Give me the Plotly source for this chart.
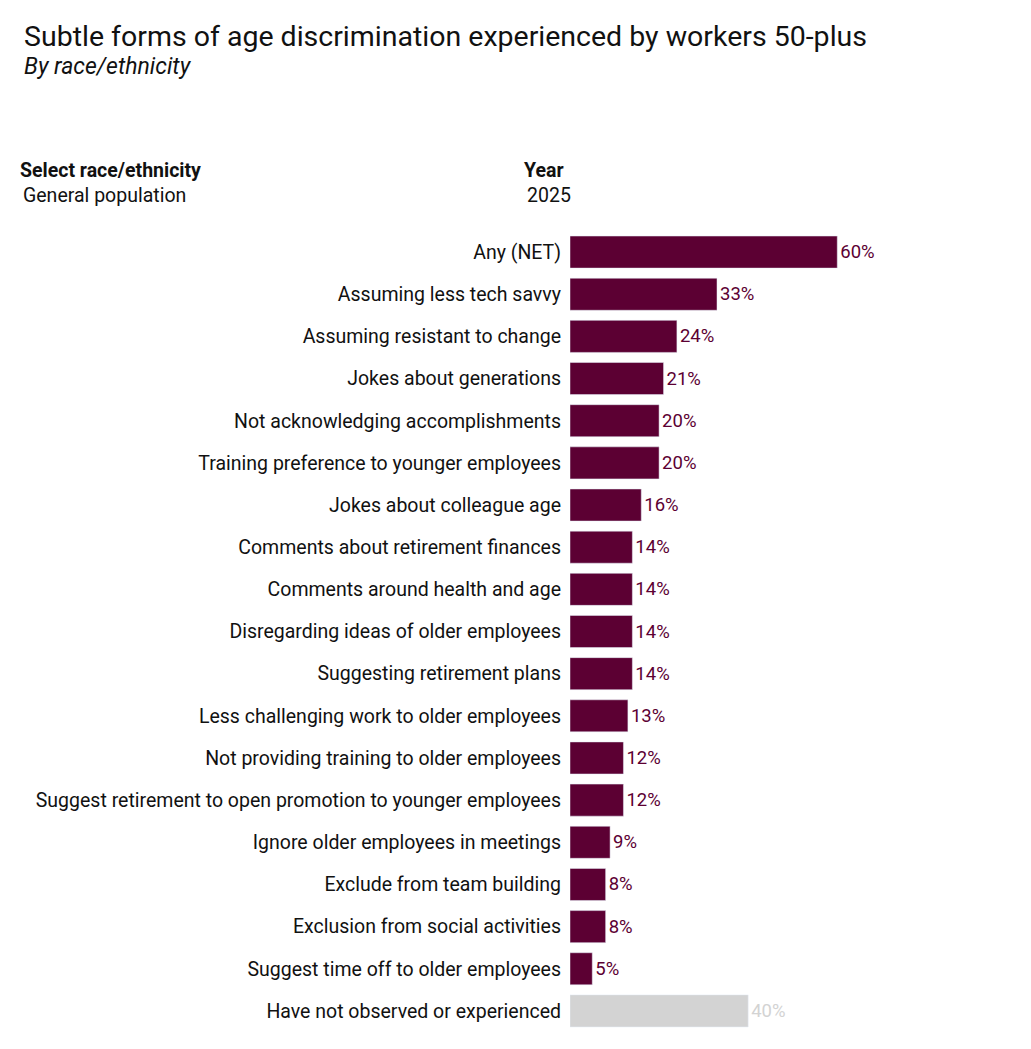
import plotly.graph_objects as go

categories = ["Any (NET)","Assuming less tech savvy","Assuming resistant to change","Jokes about generations",
"Not acknowledging accomplishments","Training preference to younger employees","Jokes about colleague age",
"Comments about retirement finances","Comments around health and age","Disregarding ideas of older employees",
"Suggesting retirement plans","Less challenging work to older employees","Not providing training to older employees",
"Suggest retirement to open promotion to younger employees","Ignore older employees in meetings",
"Exclude from team building","Exclusion from social activities","Suggest time off to older employees",
"Have not observed or experienced"]
values = [60,33,24,21,20,20,16,14,14,14,14,13,12,12,9,8,8,5,40]

MAROON = "#5c0033"; GREY = "#d3d3d3"
colors = [GREY if c.startswith("Have not") else MAROON for c in categories]

W, H = 1031, 1049
OFF = 8  # page offset
L, R, T, B = 570 - OFF, 28, 231 - OFF, 25
pw, ph = W - L - R, H - T - B

fig = go.Figure(go.Bar(
    x=values, y=categories, orientation="h", marker_color=colors,
    text=[f"{v}%" for v in values], textposition="outside",
    textfont=dict(color=colors, size=18.5, family="Roboto"), cliponaxis=False,
    hoverinfo="skip"))

def px(x): return (x - OFF - L) / pw
def py(y): return (H - B - (y - OFF)) / ph

ann = [
    dict(text="Subtle forms of age discrimination experienced by workers 50-plus", x=px(22), y=py(36), size=28.5),
    dict(text="<i>By race/ethnicity</i>", x=px(22), y=py(67), size=23),
    dict(text="<b>Select race/ethnicity</b>", x=px(18), y=py(170), size=19.5),
    dict(text="General population", x=px(21), y=py(196), size=19.5),
    dict(text="<b>Year</b>", x=px(522), y=py(170), size=19.5),
    dict(text="2025", x=px(525), y=py(196), size=19.5),
]
annotations = [dict(text=a["text"], x=a["x"], y=a["y"], xref="paper", yref="paper",
                    xanchor="left", yanchor="middle", showarrow=False,
                    font=dict(size=a["size"], family="Roboto", color="#111")) for a in ann]

fig.update_layout(
    width=W, height=H, margin=dict(l=L, r=R, t=T, b=B),
    paper_bgcolor="white", plot_bgcolor="white", showlegend=False,
    bargap=0.24, annotations=annotations,
    font=dict(family="Roboto", size=19.5, color="#111"),
    xaxis=dict(range=[0, 99], visible=False),
    yaxis=dict(autorange="reversed", showgrid=False, showline=False, ticks="",
               ticklabelstandoff=8, tickfont=dict(size=19.5, color="#111")),
)
fig.write_html("out.html")
